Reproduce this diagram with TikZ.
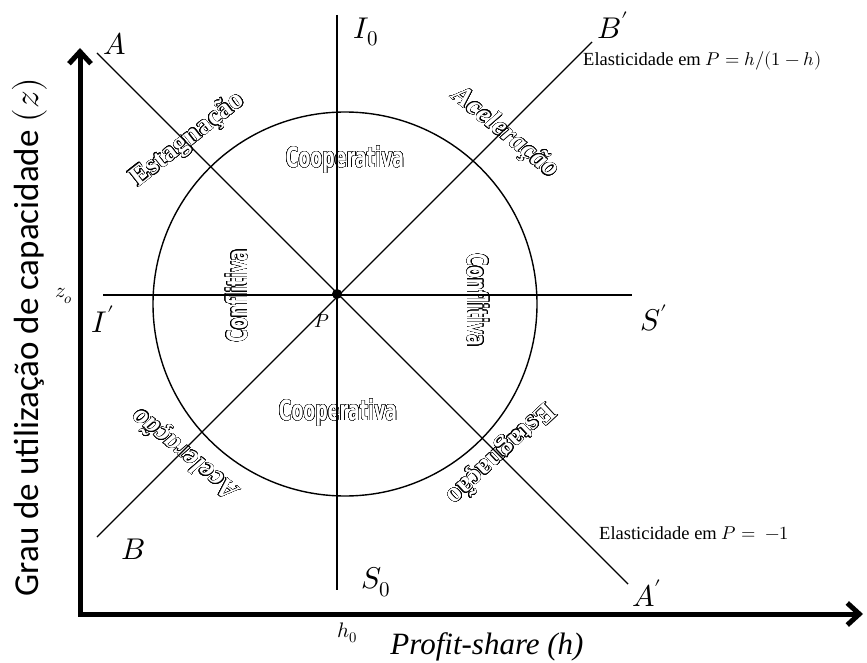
\documentclass[tikz,border=0pt]{standalone}
\usepackage{fontspec}
\usepackage{unicode-math}
\setmainfont{Liberation Serif}
\newfontfamily\axisfont{Carlito}
\newfontfamily\regimefont[FakeStretch=0.62]{DejaVu Sans}
\usepackage[copies]{contour}
\contourlength{0.4pt}
\contournumber{24}
\usetikzlibrary{arrows.meta, positioning, calc}
\newcommand{\hollow}[1]{{\color{white}\contour{black}{#1}}}

\begin{document}
\begin{tikzpicture}[
    x=1pt, y=-1pt,
    axisline/.style={line width=5pt, line join=miter, {Straight Barb[length=12pt,width=22pt]}-{Straight Barb[length=12pt,width=22pt]}},
    locus/.style={line width=1.4pt},
    ptlabel/.style={inner sep=0pt, font=\fontsize{30}{30}\selectfont},
    smalllabel/.style={inner sep=0pt, font=\fontsize{21}{21}\selectfont},
    elast/.style={inner sep=0pt, anchor=west, font=\fontsize{18.5}{18.5}\selectfont},
    regime/.style={inner sep=0pt, font=\regimefont\bfseries\fontsize{28}{28}\selectfont},
    phase/.style={inner sep=0pt, font=\bfseries\fontsize{28}{28}\selectfont}
]
\useasboundingbox (0,0) rectangle (867,663);

    % Points
    \coordinate (origin) at (80,614);
    \coordinate (ytip) at (80,48);
    \coordinate (xtip) at (863,614);
    \coordinate (c) at (345,304);
    \node[circle, fill, inner sep=0pt, minimum size=10pt] (P) at (337,294) {};
    \coordinate (a) at (97,53);
    \coordinate (ap) at (628,584);
    \coordinate (b) at (97,537);
    \coordinate (bp) at (592,42);
    \coordinate (i0) at (337,15);
    \coordinate (s0) at (337,590);
    \coordinate (ip) at (103,295);
    \coordinate (sp) at (632,295);

    % Regimes
    \node[regime] (coopup) at (345,160) {\hollow{Cooperativa}};
    \node[regime] (coopdown) at (338,413) {\hollow{Cooperativa}};
    \node[regime, rotate=90] (confleft) at (237,296) {\hollow{Conflitiva}};
    \node[regime, rotate=-90] (confright) at (478,300) {\hollow{Conflitiva}};

    % Phases
    \node[phase, rotate=38] (estup) at (188,140) {\hollow{Estagnação}};
    \node[phase, rotate=-39] (aceup) at (505,133) {\hollow{\itshape Aceleração}};
    \node[phase, rotate=141] (acedown) at (186,453) {\hollow{\itshape Aceleração}};
    \node[phase, rotate=-137] (estdown) at (500,453) {\hollow{Estagnação}};

    % Circle and lines through P
    \draw[locus] (c) circle[radius=192];
    \draw[locus] (a) -- (ap);
    \draw[locus] (b) -- (bp);
    \draw[locus] (i0) -- (s0);
    \draw[locus] (ip) -- (sp);

    % Axes
    \draw[axisline] (ytip) -- (origin) -- (xtip);

    % Labels
    \node[ptlabel] (lblA) at (115,44) {$A$};
    \node[ptlabel] (lblBp) at (613,25) {$B'$};
    \node[ptlabel] (lblI0) at (366,32) {$I_0$};
    \node[ptlabel] (lblIp) at (103,319) {$I'$};
    \node[ptlabel] (lblSp) at (654,318) {$S'$};
    \node[ptlabel] (lblB) at (133,549) {$B$};
    \node[ptlabel] (lblS0) at (376,582) {$S_0$};
    \node[ptlabel] (lblAp) at (647,593) {$A'$};
    \node[smalllabel, font=\fontsize{19}{19}\selectfont] (lblP) at (322,321) {$P$};
    \node[smalllabel] (lblz) at (64,296) {$z_o$};
    \node[smalllabel] (lblh) at (347,633) {$h_0$};

    \node[elast] (elastB) at (583,61) {Elasticidade em $P = h/(1-h)$};
    \node[elast] (elastA) at (599,533) {Elasticidade em $P =\ -1$};

    % Axis titles
    \node[rotate=90, inner sep=0pt, font=\axisfont\fontsize{35}{35}\selectfont] (ylab) at (30,337) {Grau de utilização de capacidade $(z)$};
    \node[inner sep=0pt, font=\itshape\fontsize{31}{31}\selectfont] (xlab) at (487,647) {Profit-share (h)};

\end{tikzpicture}
\end{document}
